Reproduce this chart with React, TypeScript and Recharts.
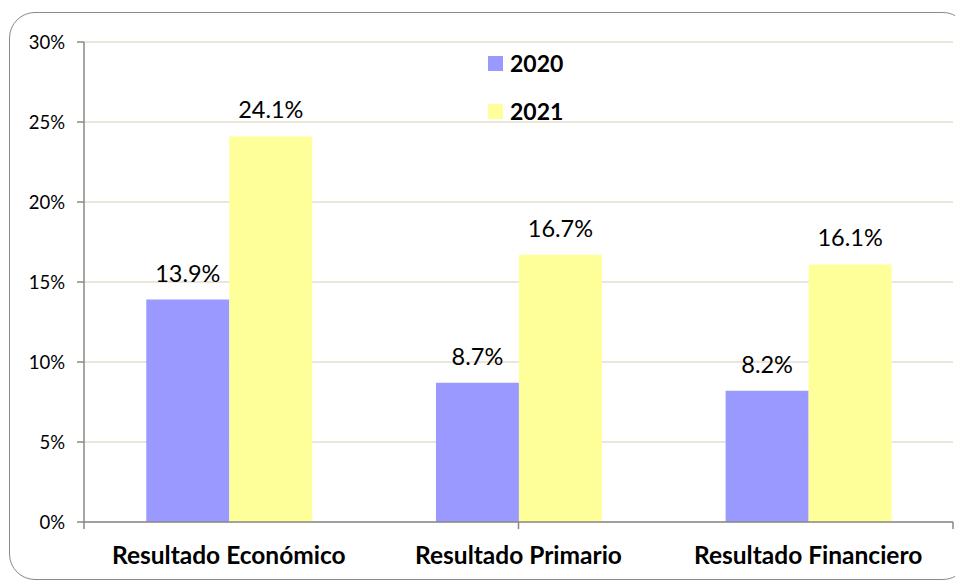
import React from "react";
import { BarChart, Bar, XAxis, YAxis, CartesianGrid, Legend, LabelList } from "recharts";

const categories = ["Resultado Económico", "Resultado Primario", "Resultado Financiero"];
const values2020 = [13.9, 8.7, 8.2];
const values2021 = [24.1, 16.7, 16.1];
const yTicks = [0, 5, 10, 15, 20, 25, 30];
const edgeTicks = [0, 1, 2, 3];

const COLOR_2020 = "#9999ff";
const COLOR_2021 = "#ffff99";
const FONT = "Lato, 'Open Sans', sans-serif";

const data = categories.map((name, i) => ({
  name,
  y2020: values2020[i],
  y2021: values2021[i],
}));

const LegendBox = ({ payload }: any) => (
  <div style={{ fontFamily: FONT, width: 120 }}>
    {(payload || []).map((p: any) => (
      <div key={p.value} style={{ display: "flex", alignItems: "center", height: 48 }}>
        <span
          style={{ width: 15, height: 15, flexShrink: 0, background: p.color, marginRight: 7, display: "inline-block" }}
        />
        <span style={{ fontSize: 23, fontWeight: 700, color: "#000" }}>{p.value}</span>
      </div>
    ))}
  </div>
);

const fmt = (v: number) => `${v.toFixed(1)}%`;

const App: React.FC = () => {
  return (
    <div style={{ position: "absolute", left: 0, top: 0, width: 955, height: 583, background: "#fff" }}>
      <div
        style={{
          position: "absolute",
          left: 9,
          top: 12,
          width: 960,
          height: 568,
          border: "1.5px solid #8a8a8a",
          borderRadius: 26,
          boxSizing: "border-box",
        }}
      />
      <BarChart
        width={955}
        height={583}
        data={data}
        margin={{ top: 42, right: 2, left: 0, bottom: 0 }}
        barCategoryGap="21.5%"
        barGap={0}
        style={{ position: "absolute", left: 0, top: 0, fontFamily: FONT }}
      >
        <CartesianGrid vertical={false} stroke="#e3dfcc" strokeWidth={1.5} yAxisId="y" xAxisId="b_cat" />
        {/* number axis only used for the separator ticks between categories */}
        <XAxis
          xAxisId="a_edge"
          type="number"
          domain={[0, 3]}
          ticks={edgeTicks}
          interval={0}
          height={1}
          tickSize={7}
          tickLine={{ stroke: "#888", strokeWidth: 1.5 }}
          tickFormatter={() => ""}
          stroke="#888"
          strokeWidth={1.5}
          allowDataOverflow
        />
        <XAxis
          xAxisId="b_cat"
          dataKey="name"
          height={60}
          axisLine={false}
          tickLine={false}
          tickSize={0}
          tickMargin={24}
          interval={0}
          tick={{ fontSize: 24.5, fontWeight: 700, fill: "#000", fontFamily: FONT }}
        />
        <YAxis
          yAxisId="y"
          width={84}
          domain={[0, 30]}
          ticks={yTicks}
          tickFormatter={(v: number) => `${v}%`}
          tickSize={7}
          tickMargin={12}
          stroke="#888"
          strokeWidth={1.5}
          tick={{ fontSize: 18.5, fill: "#000", fontFamily: FONT }}
        />
        <Legend
          content={<LegendBox />}
          layout="vertical"
          verticalAlign="top"
          wrapperStyle={{ position: "absolute", left: 488, top: 39, width: 0, height: 0, overflow: "visible" }}
        />
        <Bar dataKey="y2020" name="2020" fill={COLOR_2020} xAxisId="b_cat" yAxisId="y" isAnimationActive={false}>
          <LabelList dataKey="y2020" position="top" offset={18} formatter={fmt} style={{ fontSize: 23.5, fill: "#000", fontFamily: FONT }} />
        </Bar>
        <Bar dataKey="y2021" name="2021" fill={COLOR_2021} xAxisId="b_cat" yAxisId="y" isAnimationActive={false}>
          <LabelList dataKey="y2021" position="top" offset={18} formatter={fmt} style={{ fontSize: 23.5, fill: "#000", fontFamily: FONT }} />
        </Bar>
      </BarChart>
    </div>
  );
};

export default App;
